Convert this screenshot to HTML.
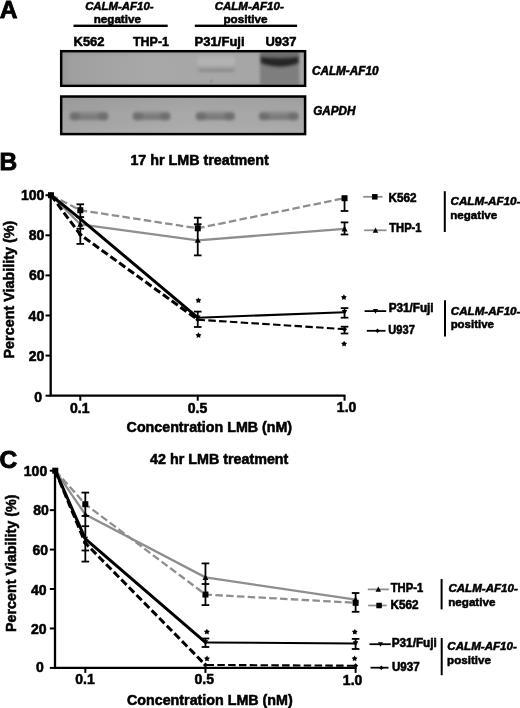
<!DOCTYPE html>
<html><head><meta charset="utf-8"><style>
html,body{margin:0;padding:0;background:#fff;}
svg{display:block;will-change:transform;}
text{font-family:"Liberation Sans", sans-serif;font-weight:bold;fill:#000;stroke:#000;stroke-width:0.55px;}
</style></head><body>
<svg width="520" height="708" viewBox="0 0 520 708">
<rect width="520" height="708" fill="#fff"/>
<text x="-0.20" y="17.60" font-size="24.5" text-anchor="start" style="stroke-width:0.9px" >A</text>
<text x="85.13" y="10.00" font-size="11.6" textLength="68.41" lengthAdjust="spacingAndGlyphs" style="font-style:italic;">CALM-AF10-</text>
<text x="93.72" y="23.00" font-size="11.8" textLength="47.20" lengthAdjust="spacingAndGlyphs">negative</text>
<text x="214.72" y="10.00" font-size="11.6" textLength="69.02" lengthAdjust="spacingAndGlyphs" style="font-style:italic;">CALM-AF10-</text>
<text x="223.41" y="23.00" font-size="11.8" textLength="44.21" lengthAdjust="spacingAndGlyphs">positive</text>
<rect x="73.5" y="24.6" width="94.2" height="2.4" fill="#000"/>
<rect x="194.8" y="24.6" width="102.3" height="2.4" fill="#000"/>
<text x="73.52" y="46.20" font-size="13.4" textLength="31.02" lengthAdjust="spacingAndGlyphs">K562</text>
<text x="133.04" y="46.20" font-size="13.4" textLength="35.92" lengthAdjust="spacingAndGlyphs">THP-1</text>
<text x="194.61" y="46.20" font-size="13.4" textLength="50.02" lengthAdjust="spacingAndGlyphs">P31/Fuji</text>
<text x="265.50" y="46.20" font-size="13.4" textLength="30.99" lengthAdjust="spacingAndGlyphs">U937</text>
<text x="311.91" y="74.50" font-size="12.0" textLength="66.63" lengthAdjust="spacingAndGlyphs" style="font-style:italic;">CALM-AF10</text>
<text x="313.22" y="115.00" font-size="12.0" textLength="42.10" lengthAdjust="spacingAndGlyphs" style="font-style:italic;">GAPDH</text>

<defs>
 <filter id="bl1" x="-20%" y="-50%" width="140%" height="200%"><feGaussianBlur stdDeviation="1.4"/></filter>
 <filter id="bl2" x="-20%" y="-50%" width="140%" height="200%"><feGaussianBlur stdDeviation="1.4"/></filter>
 <filter id="bl3" x="-20%" y="-50%" width="140%" height="200%"><feGaussianBlur stdDeviation="0.8"/></filter>
 <linearGradient id="g1" x1="0" y1="0" x2="1" y2="0">
  <stop offset="0" stop-color="#949494"/><stop offset="0.05" stop-color="#a0a0a0"/>
  <stop offset="0.35" stop-color="#a8a8a8"/><stop offset="1" stop-color="#a5a5a5"/>
 </linearGradient>
 <linearGradient id="g1v" x1="0" y1="0" x2="0" y2="1">
  <stop offset="0" stop-color="#000" stop-opacity="0.06"/><stop offset="0.2" stop-color="#000" stop-opacity="0"/>
  <stop offset="0.8" stop-color="#000" stop-opacity="0"/><stop offset="1" stop-color="#000" stop-opacity="0.08"/>
 </linearGradient>
 <linearGradient id="g2" x1="0" y1="0" x2="1" y2="0">
  <stop offset="0" stop-color="#a4a4a4"/><stop offset="0.5" stop-color="#adadad"/><stop offset="1" stop-color="#aaaaaa"/>
 </linearGradient>
 <linearGradient id="g2v" x1="0" y1="0" x2="0" y2="1">
  <stop offset="0" stop-color="#000" stop-opacity="0.07"/><stop offset="0.5" stop-color="#000" stop-opacity="0.02"/>
  <stop offset="1" stop-color="#fff" stop-opacity="0.06"/>
 </linearGradient>
 <linearGradient id="gbandv" x1="0" y1="0" x2="0" y2="1">
  <stop offset="0" stop-color="#8e8e8e"/><stop offset="0.4" stop-color="#808080"/><stop offset="0.8" stop-color="#777777"/><stop offset="1" stop-color="#7e7e7e"/>
 </linearGradient>
 <linearGradient id="p31" x1="0" y1="0" x2="0" y2="1">
  <stop offset="0" stop-color="#b0b0b0"/><stop offset="0.5" stop-color="#b4b4b4"/><stop offset="0.7" stop-color="#a4a4a4"/><stop offset="0.88" stop-color="#8c8c8c"/><stop offset="1" stop-color="#888888"/>
 </linearGradient>
 <linearGradient id="gband" x1="0" y1="0" x2="1" y2="0">
  <stop offset="0" stop-color="#666666"/><stop offset="0.15" stop-color="#6e6e6e"/><stop offset="0.35" stop-color="#808080"/>
  <stop offset="0.65" stop-color="#808080"/><stop offset="0.85" stop-color="#6e6e6e"/><stop offset="1" stop-color="#666666"/>
 </linearGradient>
 <clipPath id="c1"><rect x="62.5" y="52.5" width="241.3" height="31.8"/></clipPath>
 <clipPath id="c2"><rect x="62.5" y="97.8" width="241.3" height="35"/></clipPath>
</defs>
<g clip-path="url(#c1)">
<rect x="60" y="50" width="246.3" height="37" fill="url(#g1)"/>
<rect x="60" y="50" width="246.3" height="37" fill="url(#g1v)"/>
<g filter="url(#bl1)">
<path d="M197.5 56 L235 56 L235 68 Q235 72 231 72 L201.5 72 Q197.5 72 197.5 68 Z" fill="url(#p31)"/>
<rect x="260" y="50" width="39.2" height="40" fill="#7e7e7e"/>
<rect x="260" y="50" width="39.2" height="8" fill="#6e6e6e"/>
<path d="M260.5 56.5 Q280 59 298.7 56.5 L298.7 63.5 Q280 71 260.5 63.5 Z" fill="#262626"/>
</g>
<circle cx="211.5" cy="81" r="0.9" fill="#6a6a6a" filter="url(#bl3)"/>
</g>
<rect x="61.25" y="51.25" width="243.8" height="34.5" fill="none" stroke="#000" stroke-width="2.6"/>
<g clip-path="url(#c2)">
<rect x="60" y="95" width="246.3" height="41" fill="url(#g2)"/>
<rect x="60" y="95" width="246.3" height="41" fill="url(#g2v)"/>
<g filter="url(#bl2)">
<rect x="70.0" y="111.6" width="38.0" height="8.4" rx="2.5" fill="url(#gbandv)"/>
<ellipse cx="75.0" cy="116.5" rx="5.5" ry="4" fill="#6e6e6e"/>
<ellipse cx="103.0" cy="116.5" rx="5.5" ry="4" fill="#6e6e6e"/>
<rect x="133.0" y="111.6" width="37.0" height="8.4" rx="2.5" fill="url(#gbandv)"/>
<ellipse cx="138.0" cy="116.5" rx="5.5" ry="4" fill="#6e6e6e"/>
<ellipse cx="165.0" cy="116.5" rx="5.5" ry="4" fill="#6e6e6e"/>
<rect x="196.0" y="111.6" width="38.5" height="8.4" rx="2.5" fill="url(#gbandv)"/>
<ellipse cx="201.0" cy="116.5" rx="5.5" ry="4" fill="#6e6e6e"/>
<ellipse cx="229.5" cy="116.5" rx="5.5" ry="4" fill="#6e6e6e"/>
<rect x="259.25" y="111.6" width="39.0" height="8.4" rx="2.5" fill="url(#gbandv)"/>
<ellipse cx="264.25" cy="116.5" rx="5.5" ry="4" fill="#6e6e6e"/>
<ellipse cx="293.25" cy="116.5" rx="5.5" ry="4" fill="#6e6e6e"/>
</g></g>
<rect x="61.25" y="96.55" width="243.8" height="37.5" fill="none" stroke="#000" stroke-width="2.6"/>
<text x="-0.40" y="170.00" font-size="24.5" text-anchor="start" style="stroke-width:0.9px" >B</text>
<text x="130.39" y="164.50" font-size="14.5" textLength="138.32" lengthAdjust="spacingAndGlyphs">17 hr LMB treatment</text>
<path d="M50.70 195.20 V395.70 H345.54" fill="none" stroke="#000" stroke-width="2.3"/>
<line x1="45.50" y1="395.70" x2="50.70" y2="395.70" stroke="#000" stroke-width="2"/>
<text x="42.00" y="402.30" font-size="14" text-anchor="end" >0</text>
<line x1="45.50" y1="355.60" x2="50.70" y2="355.60" stroke="#000" stroke-width="2"/>
<text x="44.30" y="361.40" font-size="14" text-anchor="end" >20</text>
<line x1="45.50" y1="315.50" x2="50.70" y2="315.50" stroke="#000" stroke-width="2"/>
<text x="44.20" y="320.90" font-size="14" text-anchor="end" >40</text>
<line x1="45.50" y1="275.40" x2="50.70" y2="275.40" stroke="#000" stroke-width="2"/>
<text x="44.60" y="280.40" font-size="14" text-anchor="end" >60</text>
<line x1="45.50" y1="235.30" x2="50.70" y2="235.30" stroke="#000" stroke-width="2"/>
<text x="44.30" y="240.30" font-size="14" text-anchor="end" >80</text>
<line x1="45.50" y1="195.20" x2="50.70" y2="195.20" stroke="#000" stroke-width="2"/>
<text x="44.30" y="200.20" font-size="14" text-anchor="end" >100</text>
<line x1="80.30" y1="395.70" x2="80.30" y2="400.70" stroke="#000" stroke-width="2"/>
<line x1="197.74" y1="395.70" x2="197.74" y2="400.70" stroke="#000" stroke-width="2"/>
<line x1="344.54" y1="395.70" x2="344.54" y2="400.70" stroke="#000" stroke-width="2"/>
<text x="79.80" y="413.00" font-size="14" text-anchor="middle" >0.1</text>
<text x="197.50" y="413.00" font-size="14" text-anchor="middle" >0.5</text>
<text x="346.60" y="411.80" font-size="14" text-anchor="middle" >1.0</text>
<text x="126.59" y="431.80" font-size="14.6" textLength="165.54" lengthAdjust="spacingAndGlyphs">Concentration LMB (nM)</text>
<g transform="translate(14.00,357.80) rotate(-90)"><text x="-0.67" y="0.00" font-size="15.4" textLength="137.70" lengthAdjust="spacingAndGlyphs">Percent Viability (%)</text></g>
<path d="M50.94 195.20 L80.30 210.24 L197.74 228.28 L344.54 198.21" fill="none" stroke="#8e8e8e" stroke-width="2.3" stroke-dasharray="7.5 3.3" stroke-linejoin="round"/>
<path d="M50.94 195.20 L80.30 224.27 L197.74 240.31 L344.54 228.88" fill="none" stroke="#8e8e8e" stroke-width="2.3" stroke-linejoin="round"/>
<path d="M50.94 195.20 L80.30 218.86 L197.74 317.71" fill="none" stroke="#000" stroke-width="3.0" stroke-linejoin="round"/>
<path d="M197.74 317.71 L344.54 312.29" fill="none" stroke="#000" stroke-width="2.1"/>
<path d="M50.94 195.20 L80.30 234.70 L197.74 319.71" fill="none" stroke="#000" stroke-width="3.0" stroke-dasharray="7.5 3.3" stroke-linejoin="round"/>
<path d="M197.74 319.71 L344.54 329.13" fill="none" stroke="#000" stroke-width="2.1" stroke-dasharray="7.5 3.3" stroke-dashoffset="-194.20"/>
<line x1="80.30" y1="204.30" x2="80.30" y2="243.90" stroke="#000" stroke-width="1.8"/>
<line x1="76.50" y1="204.30" x2="84.10" y2="204.30" stroke="#000" stroke-width="1.8"/>
<line x1="76.50" y1="217.10" x2="84.10" y2="217.10" stroke="#000" stroke-width="1.8"/>
<line x1="76.50" y1="228.70" x2="84.10" y2="228.70" stroke="#000" stroke-width="1.8"/>
<line x1="76.50" y1="243.90" x2="84.10" y2="243.90" stroke="#000" stroke-width="1.8"/>
<line x1="197.74" y1="217.70" x2="197.74" y2="255.40" stroke="#000" stroke-width="1.8"/>
<line x1="193.94" y1="217.70" x2="201.54" y2="217.70" stroke="#000" stroke-width="1.8"/>
<line x1="193.94" y1="224.20" x2="201.54" y2="224.20" stroke="#000" stroke-width="1.8"/>
<line x1="193.94" y1="255.40" x2="201.54" y2="255.40" stroke="#000" stroke-width="1.8"/>
<line x1="197.74" y1="311.60" x2="197.74" y2="327.00" stroke="#000" stroke-width="1.8"/>
<line x1="193.94" y1="311.60" x2="201.54" y2="311.60" stroke="#000" stroke-width="1.8"/>
<line x1="193.94" y1="327.00" x2="201.54" y2="327.00" stroke="#000" stroke-width="1.8"/>
<line x1="344.54" y1="197.50" x2="344.54" y2="211.00" stroke="#000" stroke-width="1.8"/>
<line x1="340.74" y1="211.00" x2="348.34" y2="211.00" stroke="#000" stroke-width="1.8"/>
<line x1="344.54" y1="222.40" x2="344.54" y2="234.50" stroke="#000" stroke-width="1.8"/>
<line x1="340.74" y1="222.40" x2="348.34" y2="222.40" stroke="#000" stroke-width="1.8"/>
<line x1="340.74" y1="234.50" x2="348.34" y2="234.50" stroke="#000" stroke-width="1.8"/>
<line x1="344.54" y1="308.10" x2="344.54" y2="317.70" stroke="#000" stroke-width="1.8"/>
<line x1="340.74" y1="308.10" x2="348.34" y2="308.10" stroke="#000" stroke-width="1.8"/>
<line x1="340.74" y1="317.70" x2="348.34" y2="317.70" stroke="#000" stroke-width="1.8"/>
<line x1="344.54" y1="326.70" x2="344.54" y2="333.50" stroke="#000" stroke-width="1.8"/>
<line x1="340.74" y1="326.70" x2="348.34" y2="326.70" stroke="#000" stroke-width="1.8"/>
<line x1="340.74" y1="333.50" x2="348.34" y2="333.50" stroke="#000" stroke-width="1.8"/>
<rect x="47.94" y="192.20" width="6.00" height="6.00" fill="#000"/>
<rect x="77.30" y="207.24" width="6.00" height="6.00" fill="#000"/>
<rect x="194.74" y="225.28" width="6.00" height="6.00" fill="#000"/>
<rect x="341.54" y="195.21" width="6.00" height="6.00" fill="#000"/>
<path d="M50.94 192.05 L53.94 197.75 L47.94 197.75 Z" fill="#000"/>
<path d="M80.30 221.12 L83.30 226.82 L77.30 226.82 Z" fill="#000"/>
<path d="M197.74 237.16 L200.74 242.86 L194.74 242.86 Z" fill="#000"/>
<path d="M344.54 225.73 L347.54 231.43 L341.54 231.43 Z" fill="#000"/>
<path d="M50.94 198.00 L53.74 192.96 L48.14 192.96 Z" fill="#000"/>
<path d="M80.30 221.66 L83.10 216.62 L77.50 216.62 Z" fill="#000"/>
<path d="M197.74 320.51 L200.54 315.47 L194.94 315.47 Z" fill="#000"/>
<path d="M344.54 315.09 L347.34 310.05 L341.74 310.05 Z" fill="#000"/>
<path d="M50.94 192.70 L53.44 195.20 L50.94 197.70 L48.44 195.20 Z" fill="#000"/>
<path d="M80.30 232.20 L82.80 234.70 L80.30 237.20 L77.80 234.70 Z" fill="#000"/>
<path d="M197.74 317.21 L200.24 319.71 L197.74 322.21 L195.24 319.71 Z" fill="#000"/>
<path d="M344.54 326.63 L347.04 329.13 L344.54 331.63 L342.04 329.13 Z" fill="#000"/>
<polygon points="198.40,297.40 199.40,299.12 201.35,299.54 200.02,301.03 200.22,303.01 198.40,302.20 196.58,303.01 196.78,301.03 195.45,299.54 197.40,299.12" fill="#000"/>
<polygon points="198.50,332.30 199.50,334.02 201.45,334.44 200.12,335.93 200.32,337.91 198.50,337.10 196.68,337.91 196.88,335.93 195.55,334.44 197.50,334.02" fill="#000"/>
<polygon points="343.90,294.30 344.90,296.02 346.85,296.44 345.52,297.93 345.72,299.91 343.90,299.10 342.08,299.91 342.28,297.93 340.95,296.44 342.90,296.02" fill="#000"/>
<polygon points="344.10,340.80 345.10,342.52 347.05,342.94 345.72,344.43 345.92,346.41 344.10,345.60 342.28,346.41 342.48,344.43 341.15,342.94 343.10,342.52" fill="#000"/>
<line x1="363.2" y1="196.8" x2="382.6" y2="196.8" stroke="#8e8e8e" stroke-width="1.8"/>
<rect x="372.04" y="194.04" width="5.52" height="5.52" fill="#000"/>
<text x="388.40" y="201.80" font-size="12.0" textLength="28.09" lengthAdjust="spacingAndGlyphs">K562</text>
<line x1="364.2" y1="230.3" x2="386.5" y2="230.3" stroke="#8e8e8e" stroke-width="1.8"/>
<path d="M375.50 227.40 L378.26 232.65 L372.74 232.65 Z" fill="#000"/>
<text x="389.25" y="232.30" font-size="12.0" textLength="32.28" lengthAdjust="spacingAndGlyphs">THP-1</text>
<line x1="364.6" y1="311.1" x2="386.2" y2="311.1" stroke="#000" stroke-width="1.8"/>
<path d="M375.50 313.68 L378.08 309.04 L372.92 309.04 Z" fill="#000"/>
<text x="388.70" y="312.30" font-size="12.0" textLength="44.94" lengthAdjust="spacingAndGlyphs">P31/Fuji</text>
<line x1="366.8" y1="330.8" x2="385.5" y2="330.8" stroke="#000" stroke-width="1.8"/>
<path d="M377.50 328.50 L379.80 330.80 L377.50 333.10 L375.20 330.80 Z" fill="#000"/>
<text x="388.31" y="334.00" font-size="12.0" textLength="26.50" lengthAdjust="spacingAndGlyphs">U937</text>
<line x1="444.8" y1="191.2" x2="444.8" y2="232.0" stroke="#000" stroke-width="2"/>
<text x="450.52" y="205.00" font-size="11.6" textLength="69.93" lengthAdjust="spacingAndGlyphs" style="font-style:italic;">CALM-AF10-</text>
<text x="450.32" y="218.50" font-size="11.8" textLength="46.90" lengthAdjust="spacingAndGlyphs">negative</text>
<line x1="445.0" y1="300.3" x2="445.0" y2="336.5" stroke="#000" stroke-width="2"/>
<text x="450.82" y="314.60" font-size="11.6" textLength="69.63" lengthAdjust="spacingAndGlyphs" style="font-style:italic;">CALM-AF10-</text>
<text x="450.63" y="328.00" font-size="11.8" textLength="43.28" lengthAdjust="spacingAndGlyphs">positive</text>
<text x="-0.60" y="468.30" font-size="24.5" text-anchor="start" style="stroke-width:0.9px" >C</text>
<text x="150.06" y="464.40" font-size="14.5" textLength="138.34" lengthAdjust="spacingAndGlyphs">42 hr LMB treatment</text>
<path d="M55.00 470.70 V667.90 H356.60" fill="none" stroke="#000" stroke-width="2.3"/>
<line x1="49.80" y1="667.90" x2="55.00" y2="667.90" stroke="#000" stroke-width="2"/>
<text x="43.90" y="672.20" font-size="14" text-anchor="end" >0</text>
<line x1="49.80" y1="628.46" x2="55.00" y2="628.46" stroke="#000" stroke-width="2"/>
<text x="46.60" y="634.06" font-size="14" text-anchor="end" >20</text>
<line x1="49.80" y1="589.02" x2="55.00" y2="589.02" stroke="#000" stroke-width="2"/>
<text x="46.60" y="594.52" font-size="14" text-anchor="end" >40</text>
<line x1="49.80" y1="549.58" x2="55.00" y2="549.58" stroke="#000" stroke-width="2"/>
<text x="48.00" y="555.08" font-size="14" text-anchor="end" >60</text>
<line x1="49.80" y1="510.14" x2="55.00" y2="510.14" stroke="#000" stroke-width="2"/>
<text x="48.90" y="515.34" font-size="14" text-anchor="end" >80</text>
<line x1="49.80" y1="470.70" x2="55.00" y2="470.70" stroke="#000" stroke-width="2"/>
<text x="47.20" y="475.70" font-size="14" text-anchor="end" >100</text>
<line x1="85.33" y1="667.90" x2="85.33" y2="672.90" stroke="#000" stroke-width="2"/>
<line x1="205.45" y1="667.90" x2="205.45" y2="672.90" stroke="#000" stroke-width="2"/>
<line x1="355.60" y1="667.90" x2="355.60" y2="672.90" stroke="#000" stroke-width="2"/>
<text x="85.00" y="684.30" font-size="14" text-anchor="middle" >0.1</text>
<text x="204.20" y="684.30" font-size="14" text-anchor="middle" >0.5</text>
<text x="352.60" y="685.00" font-size="14" text-anchor="middle" >1.0</text>
<text x="126.99" y="704.80" font-size="14.6" textLength="165.74" lengthAdjust="spacingAndGlyphs">Concentration LMB (nM)</text>
<g transform="translate(15.50,631.40) rotate(-90)"><text x="-0.67" y="0.00" font-size="15.4" textLength="137.49" lengthAdjust="spacingAndGlyphs">Percent Viability (%)</text></g>
<path d="M55.30 470.70 L85.33 504.22 L205.45 594.54 L355.60 602.82" fill="none" stroke="#8e8e8e" stroke-width="2.3" stroke-dasharray="7.5 3.3" stroke-linejoin="round"/>
<path d="M55.30 470.70 L85.33 514.48 L205.45 577.39 L355.60 599.67" fill="none" stroke="#8e8e8e" stroke-width="2.3" stroke-linejoin="round"/>
<path d="M55.30 470.70 L85.33 538.93 L205.45 642.46" fill="none" stroke="#000" stroke-width="3.0" stroke-linejoin="round"/>
<path d="M205.45 642.46 L355.60 643.45" fill="none" stroke="#000" stroke-width="2.1"/>
<path d="M55.30 470.70 L85.33 543.07 L205.45 664.94" fill="none" stroke="#000" stroke-width="3.0" stroke-dasharray="7.5 3.3" stroke-linejoin="round"/>
<path d="M205.45 664.94 L355.60 665.73" fill="none" stroke="#000" stroke-width="2.1" stroke-dasharray="7.5 3.3" stroke-dashoffset="-249.47"/>
<line x1="85.33" y1="492.60" x2="85.33" y2="561.60" stroke="#000" stroke-width="1.8"/>
<line x1="81.53" y1="492.60" x2="89.13" y2="492.60" stroke="#000" stroke-width="1.8"/>
<line x1="81.53" y1="515.90" x2="89.13" y2="515.90" stroke="#000" stroke-width="1.8"/>
<line x1="81.53" y1="526.20" x2="89.13" y2="526.20" stroke="#000" stroke-width="1.8"/>
<line x1="81.53" y1="550.50" x2="89.13" y2="550.50" stroke="#000" stroke-width="1.8"/>
<line x1="81.53" y1="561.60" x2="89.13" y2="561.60" stroke="#000" stroke-width="1.8"/>
<line x1="205.45" y1="563.40" x2="205.45" y2="605.10" stroke="#000" stroke-width="1.8"/>
<line x1="201.65" y1="563.40" x2="209.25" y2="563.40" stroke="#000" stroke-width="1.8"/>
<line x1="201.65" y1="584.00" x2="209.25" y2="584.00" stroke="#000" stroke-width="1.8"/>
<line x1="201.65" y1="605.10" x2="209.25" y2="605.10" stroke="#000" stroke-width="1.8"/>
<line x1="205.45" y1="638.50" x2="205.45" y2="647.00" stroke="#000" stroke-width="1.8"/>
<line x1="201.65" y1="638.50" x2="209.25" y2="638.50" stroke="#000" stroke-width="1.8"/>
<line x1="201.65" y1="647.00" x2="209.25" y2="647.00" stroke="#000" stroke-width="1.8"/>
<line x1="355.60" y1="593.00" x2="355.60" y2="611.80" stroke="#000" stroke-width="1.8"/>
<line x1="351.80" y1="593.00" x2="359.40" y2="593.00" stroke="#000" stroke-width="1.8"/>
<line x1="351.80" y1="611.80" x2="359.40" y2="611.80" stroke="#000" stroke-width="1.8"/>
<line x1="355.60" y1="638.90" x2="355.60" y2="649.00" stroke="#000" stroke-width="1.8"/>
<line x1="351.80" y1="638.90" x2="359.40" y2="638.90" stroke="#000" stroke-width="1.8"/>
<line x1="351.80" y1="649.00" x2="359.40" y2="649.00" stroke="#000" stroke-width="1.8"/>
<rect x="52.30" y="467.70" width="6.00" height="6.00" fill="#000"/>
<rect x="82.33" y="501.22" width="6.00" height="6.00" fill="#000"/>
<rect x="202.45" y="591.54" width="6.00" height="6.00" fill="#000"/>
<rect x="352.60" y="599.82" width="6.00" height="6.00" fill="#000"/>
<path d="M55.30 467.55 L58.30 473.25 L52.30 473.25 Z" fill="#000"/>
<path d="M85.33 511.33 L88.33 517.03 L82.33 517.03 Z" fill="#000"/>
<path d="M205.45 574.24 L208.45 579.94 L202.45 579.94 Z" fill="#000"/>
<path d="M355.60 596.52 L358.60 602.22 L352.60 602.22 Z" fill="#000"/>
<path d="M55.30 473.50 L58.10 468.46 L52.50 468.46 Z" fill="#000"/>
<path d="M85.33 541.73 L88.13 536.69 L82.53 536.69 Z" fill="#000"/>
<path d="M205.45 645.26 L208.25 640.22 L202.65 640.22 Z" fill="#000"/>
<path d="M355.60 646.25 L358.40 641.21 L352.80 641.21 Z" fill="#000"/>
<path d="M55.30 468.20 L57.80 470.70 L55.30 473.20 L52.80 470.70 Z" fill="#000"/>
<path d="M85.33 540.57 L87.83 543.07 L85.33 545.57 L82.83 543.07 Z" fill="#000"/>
<path d="M205.45 662.44 L207.95 664.94 L205.45 667.44 L202.95 664.94 Z" fill="#000"/>
<path d="M355.60 663.23 L358.10 665.73 L355.60 668.23 L353.10 665.73 Z" fill="#000"/>
<polygon points="206.90,628.80 207.90,630.52 209.85,630.94 208.52,632.43 208.72,634.41 206.90,633.60 205.08,634.41 205.28,632.43 203.95,630.94 205.90,630.52" fill="#000"/>
<polygon points="207.00,655.60 208.00,657.32 209.95,657.74 208.62,659.23 208.82,661.21 207.00,660.40 205.18,661.21 205.38,659.23 204.05,657.74 206.00,657.32" fill="#000"/>
<polygon points="354.80,628.90 355.80,630.62 357.75,631.04 356.42,632.53 356.62,634.51 354.80,633.70 352.98,634.51 353.18,632.53 351.85,631.04 353.80,630.62" fill="#000"/>
<polygon points="354.60,655.50 355.60,657.22 357.55,657.64 356.22,659.13 356.42,661.11 354.60,660.30 352.78,661.11 352.98,659.13 351.65,657.64 353.60,657.22" fill="#000"/>
<line x1="367.8" y1="589.4" x2="388.8" y2="589.4" stroke="#8e8e8e" stroke-width="1.8"/>
<path d="M378.30 586.50 L381.06 591.75 L375.54 591.75 Z" fill="#000"/>
<text x="390.75" y="591.70" font-size="12.0" textLength="32.38" lengthAdjust="spacingAndGlyphs">THP-1</text>
<line x1="368.2" y1="605.5" x2="386.6" y2="605.5" stroke="#8e8e8e" stroke-width="1.8"/>
<rect x="376.34" y="602.74" width="5.52" height="5.52" fill="#000"/>
<text x="390.40" y="608.70" font-size="12.0" textLength="28.09" lengthAdjust="spacingAndGlyphs">K562</text>
<line x1="369.5" y1="644.2" x2="390.8" y2="644.2" stroke="#000" stroke-width="1.8"/>
<path d="M380.50 646.78 L383.08 642.14 L377.92 642.14 Z" fill="#000"/>
<text x="391.70" y="646.80" font-size="12.0" textLength="45.15" lengthAdjust="spacingAndGlyphs">P31/Fuji</text>
<line x1="370.5" y1="667.7" x2="388.5" y2="667.7" stroke="#000" stroke-width="1.8"/>
<path d="M381.30 665.40 L383.60 667.70 L381.30 670.00 L379.00 667.70 Z" fill="#000"/>
<text x="391.98" y="671.20" font-size="12.0" textLength="27.65" lengthAdjust="spacingAndGlyphs">U937</text>
<line x1="441.6" y1="579.0" x2="441.6" y2="609.4" stroke="#000" stroke-width="2"/>
<text x="448.42" y="591.60" font-size="11.6" textLength="69.42" lengthAdjust="spacingAndGlyphs" style="font-style:italic;">CALM-AF10-</text>
<text x="448.22" y="605.50" font-size="11.8" textLength="47.20" lengthAdjust="spacingAndGlyphs">negative</text>
<line x1="441.7" y1="638.0" x2="441.7" y2="675.2" stroke="#000" stroke-width="2"/>
<text x="447.32" y="650.20" font-size="11.6" textLength="69.53" lengthAdjust="spacingAndGlyphs" style="font-style:italic;">CALM-AF10-</text>
<text x="447.12" y="664.10" font-size="11.8" textLength="43.80" lengthAdjust="spacingAndGlyphs">positive</text>
</svg>
</body></html>
